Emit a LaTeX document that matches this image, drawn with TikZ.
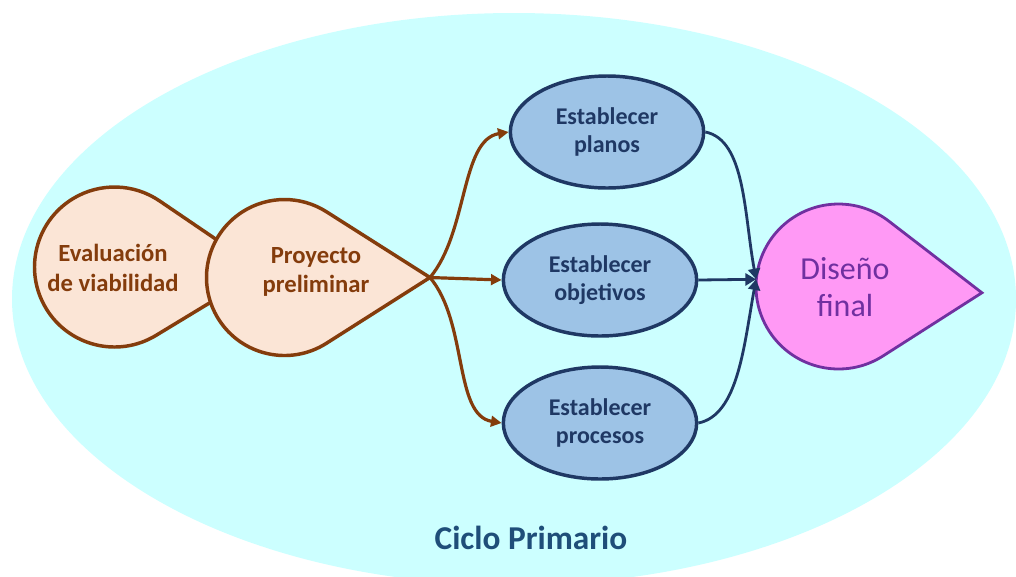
\documentclass[tikz,border=0pt]{standalone}
\usepackage{fontspec}
\setmainfont{Carlito}
\usetikzlibrary{shapes.geometric, arrows.meta}

\definecolor{cyanbg}{RGB}{204,255,255}
\definecolor{peach}{RGB}{251,229,214}
\definecolor{rust}{RGB}{132,60,12}
\definecolor{skyfill}{RGB}{157,195,230}
\definecolor{ciclonavy}{RGB}{31,56,100}
\definecolor{pinkfill}{RGB}{255,153,245}
\definecolor{dropviolet}{RGB}{112,48,160}
\definecolor{titleblue}{RGB}{31,78,121}

% Teardrop: circle with two tangent sides meeting in a point.
% #1 name, #2 style, #3 centre, #4 radius, #5 tip distance / radius, #6 rotation
\newcommand\dropshape[6]{%
  \begin{scope}[shift={#3}, rotate=#6]
    \draw[#2] ({#5*#4},0)
      -- ({#4/#5},{#4*sqrt(1-1/(#5*#5))})
      arc[start angle={acos(1/#5)}, end angle={360-acos(1/#5)}, radius=#4]
      -- cycle;
    \node[circle, inner sep=0pt, minimum size={1.5*#4*1pt}] (#1) at (0,0) {};
    \coordinate (#1-tip) at ({#5*#4},0);
  \end{scope}%
}

\tikzset{
  peachdrop/.style={fill=peach, draw=rust, line width=2.6pt},
  pinkdrop/.style={fill=pinkfill, draw=dropviolet, line width=2.1pt},
  peachtext/.style={align=center, text=rust, inner sep=0pt,
    font=\bfseries\fontsize{18.5}{22}\selectfont},
  pinktext/.style={align=center, text=dropviolet, inner sep=0pt,
    font=\fontsize{24}{28}\selectfont},
  planbox/.style={ellipse, fill=skyfill, draw=ciclonavy, line width=2.6pt,
    minimum width=145pt, minimum height=84pt, inner sep=0pt, align=center,
    text=ciclonavy, font=\bfseries\fontsize{18}{21}\selectfont},
  titletext/.style={text=titleblue, inner sep=0pt,
    font=\bfseries\fontsize{25}{30}\selectfont},
  rustarrow/.style={draw=rust, line width=2.4pt,
    -{Triangle[length=8pt, width=8pt]}},
  navyarrow/.style={draw=ciclonavy, line width=2.1pt,
    -{Triangle[length=8pt, width=9pt]}},
}

\begin{document}
\begin{tikzpicture}[x=0.75pt, y=-0.75pt]
  \useasboundingbox (0,0) rectangle (1016,576);
  \fill[white] (0,0) rectangle (1016,576);

  % surrounding cycle area
  \begin{scope}
    \clip (0,0) rectangle (1016,576);
    \fill[cyanbg] (514,299) ellipse[x radius=502, y radius=286];
  \end{scope}

  % teardrop stages
  \dropshape{ev}{peachdrop}{(114.5,267)}{80}{1.85}{-1.5}
  \dropshape{pp}{peachdrop}{(284.5,277.5)}{78}{1.865}{0}
  \dropshape{df}{pinkdrop}{(838.5,286.5)}{82.5}{1.74}{-2.5}

  \node[peachtext] (evtxt) at (113,268) {Evaluación\\de viabilidad};
  \node[peachtext] (pptxt) at (316,272) {Proyecto\\preliminar};
  \node[pinktext] (dftxt) at (845,287) {Diseño\\final};

  % parallel tasks
  \node[planbox] (pl) at (607,132) {Establecer\\planos};
  \node[planbox] (ob) at (600,280) {Establecer\\objetivos};
  \node[planbox] (pr) at (600,423) {Establecer\\procesos};

  \node[titletext] (title) at (531,538) {Ciclo Primario};

  % connectors
  \draw[rustarrow] (pp-tip) .. controls +(38,-45) and +(-48,8) .. (pl.west);
  \draw[rustarrow] (pp-tip) -- (ob.west);
  \draw[rustarrow] (pp-tip) .. controls +(38,45) and +(-48,-8) .. (pr.west);

  \draw[navyarrow] (pl.east) .. controls +(40,8) and +(-12,-65) .. (df.175);
  \draw[navyarrow] (ob.east) -- (df.175);
  \draw[navyarrow] (pr.east) .. controls +(40,-8) and +(-12,65) .. (df.175);
\end{tikzpicture}
\end{document}
